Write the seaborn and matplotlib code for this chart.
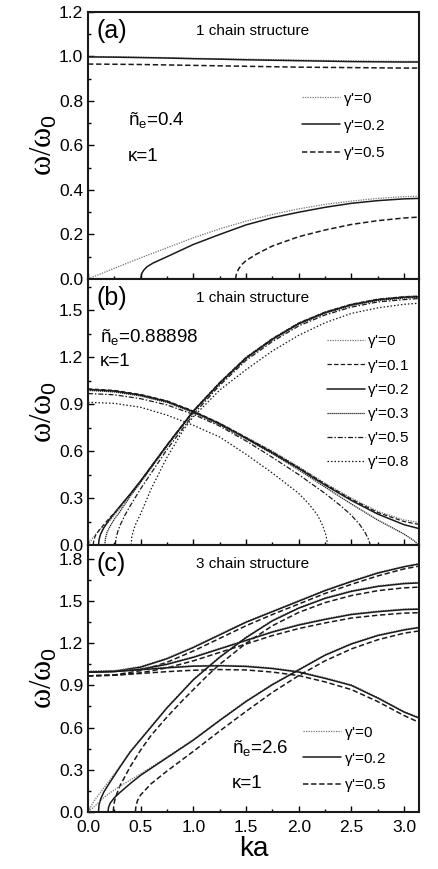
import matplotlib
matplotlib.use("Agg")
import matplotlib.pyplot as plt
import seaborn as sns
from matplotlib.ticker import MultipleLocator

PI = 3.1416
KA = [0, 0.25, 0.5, 0.75, 1.0, 1.25, 1.5, 1.75, 2.0, 2.25, 2.5, 2.75, 3.0, PI]

# ---- panel (a): 1 chain, n_e = 0.4
a_top_g0 = [1.0, 0.999, 0.997, 0.995, 0.992, 0.99, 0.988, 0.986, 0.984, 0.982, 0.98, 0.979, 0.978, 0.978]
a_top_g02 = [0.998, 0.997, 0.995, 0.993, 0.99, 0.988, 0.985, 0.983, 0.981, 0.979, 0.977, 0.976, 0.975, 0.975]
a_top_g05 = [0.966, 0.965, 0.964, 0.962, 0.96, 0.958, 0.956, 0.954, 0.952, 0.951, 0.95, 0.949, 0.948, 0.948]
a_low_g0 = [0, 0.048, 0.095, 0.14, 0.185, 0.225, 0.26, 0.29, 0.315, 0.335, 0.35, 0.362, 0.37, 0.372]
a_low_g02_ka = [0.5, 0.51, 0.53, 0.56, 0.62, 0.75, 1.0, 1.25, 1.5, 1.75, 2.0, 2.25, 2.5, 2.75, 3.0, PI]
a_low_g02 = [0, 0.025, 0.04, 0.055, 0.072, 0.1, 0.155, 0.2, 0.243, 0.275, 0.3, 0.322, 0.34, 0.352, 0.36, 0.362]
a_low_g05_ka = [1.4, 1.41, 1.43, 1.46, 1.5, 1.6, 1.75, 2.0, 2.25, 2.5, 2.75, 3.0, PI]
a_low_g05 = [0, 0.025, 0.045, 0.065, 0.082, 0.112, 0.148, 0.19, 0.22, 0.245, 0.262, 0.274, 0.278]

# ---- panel (b): 1 chain, n_e = 0.88898
UP_TAIL = [0.75, 1.0, 1.25, 1.5, 1.75, 2.0, 2.25, 2.5, 2.75, 3.0, PI]
b_up_g0_ka = [0, 0.05, 0.1, 0.2, 0.3, 0.4, 0.5] + UP_TAIL
b_up_g0 = [0, 0.05, 0.09, 0.15, 0.23, 0.32, 0.41, 0.64, 0.86, 1.04, 1.2, 1.32, 1.42, 1.49, 1.54, 1.572, 1.588, 1.592]
b_up_g01_ka = [0.05, 0.055, 0.07, 0.1, 0.15, 0.2, 0.3, 0.4, 0.5] + UP_TAIL
b_up_g01 = [0, 0.03, 0.06, 0.09, 0.13, 0.17, 0.24, 0.325, 0.41, 0.64, 0.858, 1.038, 1.198, 1.318, 1.418, 1.488, 1.538, 1.57, 1.586, 1.59]
b_up_g02_ka = [0.1, 0.105, 0.12, 0.15, 0.2, 0.3, 0.4, 0.5] + UP_TAIL
b_up_g02 = [0, 0.035, 0.07, 0.11, 0.16, 0.245, 0.325, 0.41, 0.638, 0.855, 1.035, 1.195, 1.315, 1.415, 1.485, 1.535, 1.567, 1.583, 1.587]
b_up_g03_ka = [0.16, 0.165, 0.18, 0.21, 0.25, 0.3, 0.4, 0.5] + UP_TAIL
b_up_g03 = [0, 0.04, 0.08, 0.12, 0.165, 0.21, 0.31, 0.4, 0.63, 0.85, 1.03, 1.19, 1.31, 1.41, 1.48, 1.53, 1.562, 1.578, 1.582]
b_up_g05_ka = [0.26, 0.265, 0.28, 0.3, 0.35, 0.4, 0.5] + UP_TAIL
b_up_g05 = [0, 0.04, 0.08, 0.12, 0.19, 0.25, 0.36, 0.61, 0.835, 1.02, 1.18, 1.3, 1.4, 1.47, 1.52, 1.553, 1.568, 1.575]
b_up_g08_ka = [0.41, 0.415, 0.43, 0.45, 0.5, 0.6, 0.75, 0.9, 1.0, 1.25, 1.5, 1.75, 2.0, 2.25, 2.5, 2.75, 3.0, PI]
b_up_g08 = [0, 0.05, 0.09, 0.13, 0.2, 0.36, 0.56, 0.73, 0.82, 0.99, 1.12, 1.24, 1.34, 1.42, 1.48, 1.515, 1.538, 1.545]

b_dn_g0 = [0.995, 0.985, 0.96, 0.92, 0.855, 0.78, 0.69, 0.6, 0.5, 0.395, 0.3, 0.215, 0.16, 0.145]
b_dn_g01 = [0.998, 0.988, 0.962, 0.921, 0.856, 0.778, 0.687, 0.595, 0.495, 0.39, 0.293, 0.208, 0.15, 0.132]
b_dn_g02 = [0.994, 0.984, 0.958, 0.917, 0.852, 0.774, 0.683, 0.59, 0.49, 0.383, 0.285, 0.198, 0.13, 0.105]
b_dn_g03_ka = [0, 0.25, 0.5, 0.75, 1.0, 1.25, 1.5, 1.75, 2.0, 2.25, 2.5, 2.75, 3.0, 3.1, 3.135]
b_dn_g03 = [0.988, 0.978, 0.952, 0.911, 0.846, 0.768, 0.677, 0.583, 0.48, 0.37, 0.262, 0.16, 0.07, 0.025, 0]
b_dn_g05_ka = [0, 0.25, 0.5, 0.75, 1.0, 1.25, 1.5, 1.75, 2.0, 2.25, 2.4, 2.5, 2.58, 2.63, 2.66, 2.68]
b_dn_g05 = [0.968, 0.96, 0.935, 0.895, 0.835, 0.76, 0.665, 0.56, 0.45, 0.33, 0.25, 0.19, 0.13, 0.08, 0.04, 0]
b_dn_g08_ka = [0, 0.25, 0.5, 0.75, 1.0, 1.25, 1.5, 1.75, 2.0, 2.1, 2.18, 2.23, 2.26, 2.275]
b_dn_g08 = [0.912, 0.905, 0.88, 0.83, 0.765, 0.69, 0.58, 0.46, 0.33, 0.26, 0.19, 0.12, 0.06, 0]

# ---- panel (c): 3 chain, n_e = 2.6
c_A_g0 = [1.0, 1.005, 1.035, 1.095, 1.175, 1.265, 1.355, 1.43, 1.505, 1.58, 1.645, 1.705, 1.748, 1.768]
c_A_g02 = [0.995, 1.0, 1.03, 1.09, 1.17, 1.26, 1.35, 1.425, 1.5, 1.575, 1.64, 1.7, 1.745, 1.765]
c_A_g05 = [0.968, 0.975, 1.005, 1.065, 1.145, 1.235, 1.325, 1.405, 1.48, 1.555, 1.62, 1.68, 1.73, 1.75]
c_C_g0 = [1.0, 1.003, 1.02, 1.055, 1.105, 1.165, 1.225, 1.285, 1.335, 1.375, 1.41, 1.43, 1.445, 1.447]
c_C_g02 = [0.995, 0.998, 1.015, 1.05, 1.1, 1.16, 1.22, 1.28, 1.33, 1.37, 1.405, 1.425, 1.44, 1.443]
c_C_g05 = [0.968, 0.972, 0.99, 1.025, 1.075, 1.135, 1.195, 1.255, 1.305, 1.345, 1.38, 1.4, 1.415, 1.418]
c_E_g0 = [1.0, 1.005, 1.017, 1.03, 1.04, 1.044, 1.04, 1.025, 1.0, 0.955, 0.905, 0.815, 0.715, 0.672]
c_E_g02 = [0.995, 1.0, 1.012, 1.025, 1.037, 1.04, 1.035, 1.02, 0.995, 0.95, 0.9, 0.81, 0.71, 0.668]
c_E_g05 = [0.968, 0.973, 0.985, 0.998, 1.008, 1.013, 1.01, 0.995, 0.97, 0.925, 0.87, 0.785, 0.685, 0.637]

F_TAIL = [0.6, 0.75, 0.9, 1.0, 1.14, 1.25, 1.5, 1.75, 2.0, 2.25, 2.5, 2.75, 3.0, PI]
c_F_g0_ka = [0, 0.03, 0.06, 0.1, 0.15, 0.2, 0.3, 0.4, 0.5] + F_TAIL
c_F_g0 = [0, 0.04, 0.08, 0.12, 0.17, 0.22, 0.32, 0.43, 0.52, 0.61, 0.745, 0.865, 0.945, 1.035, 1.105, 1.245, 1.365, 1.455, 1.525, 1.575, 1.61, 1.63, 1.635]
c_F_g02_ka = [0.1, 0.105, 0.12, 0.15, 0.2, 0.3, 0.4, 0.5] + F_TAIL
c_F_g02 = [0, 0.05, 0.09, 0.14, 0.2, 0.315, 0.425, 0.515, 0.605, 0.74, 0.86, 0.94, 1.03, 1.1, 1.24, 1.36, 1.45, 1.52, 1.57, 1.605, 1.625, 1.63]
c_F_g05_ka = [0.24, 0.245, 0.26, 0.3, 0.4, 0.5] + F_TAIL
c_F_g05 = [0, 0.05, 0.1, 0.18, 0.32, 0.44, 0.545, 0.675, 0.795, 0.87, 0.975, 1.05, 1.2, 1.325, 1.42, 1.49, 1.54, 1.575, 1.595, 1.6]

G_TAIL = [0.75, 1.0, 1.25, 1.5, 1.75, 2.0, 2.25, 2.5, 2.75, 3.0, PI]
c_G_g0_ka = [0, 0.05, 0.1, 0.15, 0.2, 0.3, 0.4, 0.5] + G_TAIL
c_G_g0 = [0, 0.03, 0.065, 0.1, 0.13, 0.18, 0.225, 0.27, 0.39, 0.515, 0.655, 0.79, 0.91, 1.015, 1.12, 1.2, 1.26, 1.3, 1.315]
c_G_g02_ka = [0.19, 0.195, 0.21, 0.25, 0.3, 0.4, 0.5] + G_TAIL
c_G_g02 = [0, 0.03, 0.06, 0.1, 0.135, 0.2, 0.26, 0.385, 0.51, 0.65, 0.785, 0.905, 1.01, 1.115, 1.195, 1.255, 1.295, 1.312]
c_G_g05_ka = [0.45, 0.455, 0.47, 0.5, 0.6] + G_TAIL
c_G_g05 = [0, 0.04, 0.08, 0.12, 0.2, 0.29, 0.43, 0.575, 0.715, 0.85, 0.97, 1.075, 1.16, 1.225, 1.272, 1.288]

# line styles per gamma
ST = {
    "0": dict(color="0.45", linestyle=(0, (1, 1)), lw=0.9),
    "0.1": dict(color="k", linestyle=(0, (3.5, 1.8)), lw=0.9),
    "0.2": dict(color="k", linestyle="-", lw=1.1),
    "0.3": dict(color="k", linestyle=(0, (1, 0.6)), lw=0.9),
    "0.5": dict(color="k", linestyle=(0, (4, 1.5, 1.2, 1.5)), lw=0.9),
    "0.5d": dict(color="k", linestyle=(0, (3.5, 1.8)), lw=1.1),
    "0.8": dict(color="k", linestyle=(0, (1.2, 1.6)), lw=0.9),
}

sns.set_theme(style="ticks")
plt.rcParams["font.family"] = ["Liberation Sans", "DejaVu Sans"]
plt.rcParams["mathtext.fontset"] = "custom"
plt.rcParams["mathtext.rm"] = "Liberation Sans"
plt.rcParams["mathtext.it"] = "Liberation Sans"
for k in ["text.color", "axes.labelcolor", "xtick.color", "ytick.color", "axes.edgecolor"]:
    plt.rcParams[k] = "black"

fig = plt.figure(figsize=(4.38, 8.69), dpi=100)
L, W = 0.2009, 0.7557
ax_a = fig.add_axes([L, 0.679, W, 0.3072])
ax_b = fig.add_axes([L, 0.3728, W, 0.3062])
ax_c = fig.add_axes([L, 0.0659, W, 0.3069])


def draw(ax, ka, w, key, label=None):
    sns.lineplot(x=ka, y=w, ax=ax, estimator=None, sort=False, label=label, **ST[key])


# (a)
draw(ax_a, KA, a_top_g0, "0", r"$\gamma$'=0")
draw(ax_a, KA, a_top_g02, "0.2", r"$\gamma$'=0.2")
draw(ax_a, KA, a_top_g05, "0.5d", r"$\gamma$'=0.5")
draw(ax_a, KA, a_low_g0, "0")
draw(ax_a, a_low_g02_ka, a_low_g02, "0.2")
draw(ax_a, a_low_g05_ka, a_low_g05, "0.5d")

# (b)
draw(ax_b, b_up_g0_ka, b_up_g0, "0", r"$\gamma$'=0")
draw(ax_b, b_up_g01_ka, b_up_g01, "0.1", r"$\gamma$'=0.1")
draw(ax_b, b_up_g02_ka, b_up_g02, "0.2", r"$\gamma$'=0.2")
draw(ax_b, b_up_g03_ka, b_up_g03, "0.3", r"$\gamma$'=0.3")
draw(ax_b, b_up_g05_ka, b_up_g05, "0.5", r"$\gamma$'=0.5")
draw(ax_b, b_up_g08_ka, b_up_g08, "0.8", r"$\gamma$'=0.8")
draw(ax_b, KA, b_dn_g0, "0")
draw(ax_b, KA, b_dn_g01, "0.1")
draw(ax_b, KA, b_dn_g02, "0.2")
draw(ax_b, b_dn_g03_ka, b_dn_g03, "0.3")
draw(ax_b, b_dn_g05_ka, b_dn_g05, "0.5")
draw(ax_b, b_dn_g08_ka, b_dn_g08, "0.8")

# (c)
draw(ax_c, KA, c_A_g0, "0", r"$\gamma$'=0")
draw(ax_c, KA, c_A_g02, "0.2", r"$\gamma$'=0.2")
draw(ax_c, KA, c_A_g05, "0.5d", r"$\gamma$'=0.5")
for lst, key in [(c_C_g0, "0"), (c_C_g02, "0.2"), (c_C_g05, "0.5d"),
                 (c_E_g0, "0"), (c_E_g02, "0.2"), (c_E_g05, "0.5d")]:
    draw(ax_c, KA, lst, key)
draw(ax_c, c_F_g0_ka, c_F_g0, "0")
draw(ax_c, c_F_g02_ka, c_F_g02, "0.2")
draw(ax_c, c_F_g05_ka, c_F_g05, "0.5d")
draw(ax_c, c_G_g0_ka, c_G_g0, "0")
draw(ax_c, c_G_g02_ka, c_G_g02, "0.2")
draw(ax_c, c_G_g05_ka, c_G_g05, "0.5d")

panels = [
    (ax_a, 1.2, 0.2, "(a)", "1 chain structure", "0.4", (0.121, 0.595), (0.121, 0.457), (0.647, 0.705), 0.66),
    (ax_b, 1.7, 0.3, "(b)", "1 chain structure", "0.88898", (0.036, 0.783), (0.036, 0.689), (0.722, 0.795), 0.47),
    (ax_c, 1.9, 0.3, "(c)", "3 chain structure", "2.6", (0.434, 0.238), (0.434, 0.106), (0.65, 0.327), 0.6),
]
for ax, top, step, tag, title, ne, ne_pos, k_pos, leg_pos, lsp in panels:
    ax.set_xlim(0, PI)
    ax.set_ylim(0, top)
    ax.xaxis.set_major_locator(MultipleLocator(0.5))
    ax.xaxis.set_minor_locator(MultipleLocator(0.25))
    ax.yaxis.set_major_locator(MultipleLocator(step))
    ax.yaxis.set_minor_locator(MultipleLocator(step / 2))
    ax.yaxis.set_major_formatter(plt.FuncFormatter(lambda v, p: f"{v:.1f}" if v < 1.85 else ""))
    ax.tick_params(which="both", direction="in", top=False, right=False, labelsize=12.5,
                   width=1, colors="black")
    ax.tick_params(which="major", length=4.5)
    ax.tick_params(which="minor", length=2.5)
    for s in ax.spines.values():
        s.set_linewidth(1.5)
        s.set_color("k")
    ax.set_ylabel(r"ω/ω$_0$", family="Liberation Serif", fontsize=22, labelpad=0)
    ax.text(0.027, 0.929, tag, transform=ax.transAxes, fontsize=18, va="center", ha="left")
    ax.text(0.498, 0.929, title, transform=ax.transAxes, fontsize=11, va="center", ha="center")
    ax.text(ne_pos[0], ne_pos[1], "ñ$_\\mathrm{e}$=" + ne, transform=ax.transAxes, fontsize=13.5, va="center", ha="left")
    ax.text(k_pos[0], k_pos[1], "κ=1", transform=ax.transAxes, fontsize=13.5, va="center", ha="left")
    ax.legend(loc="upper left", bbox_to_anchor=leg_pos, frameon=False, fontsize=11,
              handlelength=2.5, handletextpad=0.15, borderpad=0, borderaxespad=0,
              labelspacing=lsp)
    ax.set_xlabel("")

ax_a.tick_params(labelbottom=False)
ax_b.tick_params(labelbottom=False)
ax_c.tick_params(axis="x", which="major", pad=6)
ax_c.set_xlabel("ka", fontsize=20, labelpad=1)

fig.savefig("out.png", dpi=100)
